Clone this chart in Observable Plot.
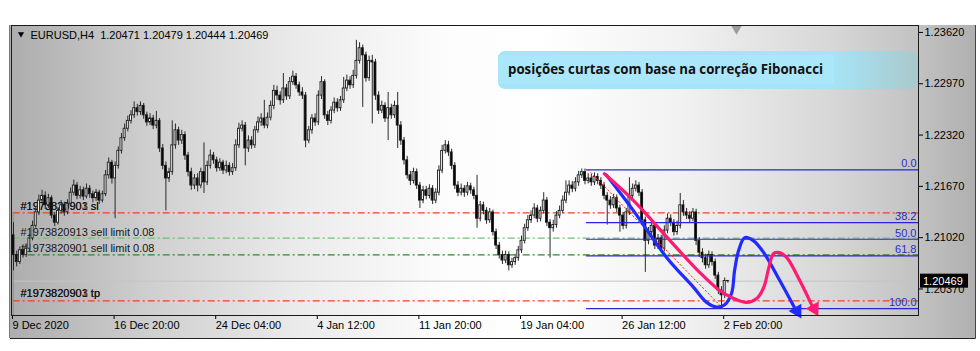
<!DOCTYPE html>
<html>
<head>
<meta charset="utf-8">
<script src="https://cdn.jsdelivr.net/npm/d3@7"></script>
<script src="https://cdn.jsdelivr.net/npm/@observablehq/plot@0.6"></script>
<style>
  html, body { margin: 0; padding: 0; background: #ffffff; }
  #chart { width: 980px; height: 351px; overflow: hidden; }
  #chart svg { display: block; }
</style>
</head>
<body>
<div id="chart"></div>
<script>
// ---------------- data ----------------
const symbol = "EURUSD,H4";
const tickBars = [0, 32, 64, 96, 128, 160, 192, 224];
const tickLabels = ["9 Dec 2020", "16 Dec 20:00", "24 Dec 04:00", "4 Jan 12:00", "11 Jan 20:00", "19 Jan 04:00", "26 Jan 12:00", "2 Feb 20:00"];
const priceTicks = [1.23620, 1.22970, 1.22320, 1.21670, 1.21020, 1.20370];

const firstOpen = 1.2105;
const closes = [
1.2080,1.2071,1.2086,1.2080,1.2088,1.2101,1.2117,1.2134,1.2149,1.2155,
1.2143,1.2152,1.2130,1.2121,1.2136,1.2143,1.2134,1.2145,1.2159,1.2168,
1.2155,1.2162,1.2154,1.2164,1.2157,1.2152,1.2159,1.2149,1.2157,1.2181,
1.2197,1.2177,1.2193,1.2212,1.2228,1.2240,1.2250,1.2257,1.2266,1.2261,
1.2269,1.2257,1.2248,1.2253,1.2244,1.2250,1.2215,1.2193,1.2177,1.2185,
1.2219,1.2238,1.2225,1.2232,1.2206,1.2185,1.2168,1.2177,1.2168,1.2185,
1.2172,1.2193,1.2206,1.2200,1.2190,1.2197,1.2187,1.2193,1.2185,1.2190,
1.2219,1.2240,1.2244,1.2215,1.2225,1.2219,1.2238,1.2248,1.2253,1.2244,
1.2254,1.2269,1.2288,1.2282,1.2276,1.2291,1.2281,1.2299,1.2306,1.2295,
1.2286,1.2282,1.2225,1.2238,1.2253,1.2248,1.2282,1.2299,1.2257,1.2250,
1.2263,1.2273,1.2266,1.2276,1.2291,1.2301,1.2295,1.2307,1.2326,1.2342,
1.2333,1.2304,1.2326,1.2324,1.2282,1.2263,1.2269,1.2253,1.2266,1.2257,
1.2269,1.2244,1.2225,1.2200,1.2181,1.2174,1.2185,1.2168,1.2149,1.2162,
1.2155,1.2164,1.2149,1.2159,1.2187,1.2212,1.2219,1.2210,1.2193,1.2168,
1.2159,1.2164,1.2159,1.2167,1.2162,1.2155,1.2126,1.2143,1.2136,1.2124,
1.2134,1.2109,1.2092,1.2080,1.2073,1.2080,1.2067,1.2071,1.2076,1.2086,
1.2098,1.2114,1.2124,1.2130,1.2139,1.2126,1.2136,1.2149,1.2121,1.2114,
1.2118,1.2130,1.2136,1.2149,1.2159,1.2168,1.2164,1.2172,1.2181,1.2185,
1.2174,1.2177,1.2172,1.2179,1.2174,1.2168,1.2155,1.2149,1.2143,1.2152,
1.2139,1.2130,1.2117,1.2134,1.2155,1.2164,1.2168,1.2159,1.2124,1.2098,
1.2109,1.2117,1.2092,1.2101,1.2088,1.2111,1.2126,1.2121,1.2109,1.2117,
1.2143,1.2134,1.2130,1.2126,1.2134,1.2098,1.2083,1.2076,1.2067,1.2080,
1.2071,1.2054,1.2035,1.2029,1.20471,1.20469
];
const highs = [
1.2121,1.2085,1.2090,1.2092,1.2094,1.2106,1.2123,1.2140,1.2156,1.2162,
1.2160,1.2157,1.2155,1.2134,1.2140,1.2149,1.2147,1.2150,1.2165,1.2175,
1.2172,1.2167,1.2166,1.2170,1.2168,1.2161,1.2163,1.2162,1.2161,1.2187,
1.2203,1.2200,1.2198,1.2217,1.2234,1.2246,1.2256,1.2263,1.2274,1.2271,
1.2274,1.2272,1.2261,1.2259,1.2257,1.2262,1.2253,1.2220,1.2198,1.2190,
1.2250,1.2246,1.2242,1.2238,1.2236,1.2210,1.2190,1.2182,1.2183,1.2190,
1.2222,1.2199,1.2213,1.2210,1.2204,1.2202,1.2200,1.2199,1.2197,1.2196,
1.2226,1.2247,1.2250,1.2248,1.2231,1.2230,1.2243,1.2255,1.2259,1.2276,
1.2260,1.2275,1.2295,1.2294,1.2287,1.2310,1.2296,1.2305,1.2313,1.2310,
1.2299,1.2292,1.2286,1.2243,1.2258,1.2259,1.2288,1.2306,1.2302,1.2262,
1.2268,1.2279,1.2278,1.2281,1.2305,1.2308,1.2306,1.2314,1.2352,1.2349,
1.2346,1.2337,1.2332,1.2333,1.2328,1.2287,1.2275,1.2273,1.2286,1.2271,
1.2275,1.2286,1.2249,1.2229,1.2205,1.2186,1.2190,1.2189,1.2172,1.2167,
1.2167,1.2169,1.2168,1.2164,1.2193,1.2219,1.2225,1.2224,1.2214,1.2197,
1.2173,1.2170,1.2168,1.2172,1.2171,1.2166,1.2181,1.2148,1.2147,1.2140,
1.2139,1.2137,1.2113,1.2096,1.2085,1.2085,1.2084,1.2076,1.2081,1.2091,
1.2104,1.2119,1.2130,1.2136,1.2145,1.2143,1.2141,1.2159,1.2153,1.2125,
1.2124,1.2135,1.2142,1.2155,1.2174,1.2174,1.2173,1.2178,1.2186,1.2189,
1.2189,1.2183,1.2182,1.2184,1.2183,1.2178,1.2172,1.2159,1.2154,1.2157,
1.2156,1.2143,1.2134,1.2139,1.2178,1.2170,1.2174,1.2172,1.2163,1.2128,
1.2115,1.2123,1.2121,1.2106,1.2105,1.2117,1.2132,1.2131,1.2125,1.2123,
1.2158,1.2149,1.2139,1.2135,1.2139,1.2138,1.2102,1.2088,1.2081,1.2085,
1.2084,1.2075,1.2058,1.2040,1.2051,1.20479
];
const lows = [
1.2060,1.2065,1.2068,1.2076,1.2077,1.2085,1.2098,1.2114,1.2130,1.2144,
1.2138,1.2139,1.2126,1.2116,1.2118,1.2132,1.2129,1.2131,1.2141,1.2155,
1.2150,1.2151,1.2149,1.2151,1.2152,1.2146,1.2148,1.2144,1.2146,1.2154,
1.2176,1.2170,1.2126,1.2189,1.2208,1.2224,1.2236,1.2246,1.2253,1.2256,
1.2257,1.2252,1.2243,1.2244,1.2239,1.2240,1.2210,1.2188,1.2136,1.2172,
1.2181,1.2214,1.2219,1.2220,1.2200,1.2179,1.2162,1.2163,1.2160,1.2164,
1.2158,1.2168,1.2189,1.2195,1.2185,1.2186,1.2182,1.2183,1.2180,1.2181,
1.2186,1.2215,1.2236,1.2193,1.2210,1.2214,1.2215,1.2234,1.2243,1.2240,
1.2240,1.2250,1.2264,1.2276,1.2270,1.2272,1.2276,1.2277,1.2295,1.2290,
1.2281,1.2277,1.2216,1.2221,1.2233,1.2243,1.2244,1.2277,1.2252,1.2244,
1.2246,1.2259,1.2261,1.2262,1.2272,1.2287,1.2290,1.2291,1.2303,1.2322,
1.2267,1.2299,1.2300,1.2246,1.2276,1.2258,1.2259,1.2248,1.2225,1.2252,
1.2253,1.2215,1.2219,1.2194,1.2176,1.2168,1.2170,1.2163,1.2139,1.2145,
1.2150,1.2151,1.2144,1.2145,1.2155,1.2183,1.2208,1.2205,1.2188,1.2163,
1.2154,1.2155,1.2153,1.2155,1.2157,1.2150,1.2114,1.2122,1.2131,1.2119,
1.2120,1.2104,1.2087,1.2075,1.2068,1.2069,1.2060,1.2063,1.2067,1.2072,
1.2082,1.2094,1.2110,1.2120,1.2126,1.2121,1.2122,1.2132,1.2116,1.2076,
1.2109,1.2114,1.2126,1.2132,1.2145,1.2155,1.2159,1.2160,1.2167,1.2177,
1.2169,1.2170,1.2167,1.2168,1.2169,1.2163,1.2150,1.2118,1.2138,1.2139,
1.2134,1.2109,1.2112,1.2113,1.2130,1.2150,1.2160,1.2154,1.2119,1.2058,
1.2093,1.2104,1.2087,1.2087,1.2083,1.2084,1.2107,1.2116,1.2104,1.2105,
1.2113,1.2129,1.2125,1.2121,1.2122,1.2092,1.2077,1.2070,1.2062,1.2063,
1.2066,1.2049,1.2030,1.2012,1.2025,1.20444
];
const bid = 1.20469;

const slNames = ["#1973820901 sl", "#1973820903 sl"];
const slPrice = 1.21335;
const limitNames = ["#1973820913 sell limit 0.08", "#1973820901 sell limit 0.08"];
const limitPrices = [1.21013, 1.20803];
const tpNames = ["#1973820901 tp", "#1973820903 tp"];
const tpPrice = 1.20220;

const fibLabels = ["0.0", "38.2", "50.0", "61.8", "100.0"];
const fibPrices = [1.2188, 1.2121, 1.2100, 1.2079, 1.2012];
const fibStartBar = 180.5;
const trendBars = [181, 223.5];
const trendPrices = [1.2188, 1.2012];

const blueBars   = [186.8, 195.3, 205.7, 214.2, 218.3, 221.5, 224.0, 226.2, 227.1, 228.4, 230.3, 233.1, 236.3, 241.3, 246.3];
const bluePrices = [1.2181, 1.2136, 1.2077, 1.2039, 1.2020, 1.2014, 1.2017, 1.2032, 1.2060, 1.2086, 1.2102, 1.2098, 1.2083, 1.2048, 1.2011];
const pinkBars   = [186.1, 195.3, 205.7, 216.1, 222.4, 226.8, 230.9, 234.1, 236.3, 237.9, 239.4, 241.3, 243.5, 247.6, 251.6];
const pinkPrices = [1.2183, 1.2149, 1.2103, 1.2058, 1.2035, 1.2025, 1.2020, 1.2025, 1.2039, 1.2064, 1.2082, 1.2083, 1.2077, 1.2048, 1.2015];
const arrowBars = [246.8, 252.2];
const arrowPrices = [1.2009, 1.2012];

const note = "posições curtas com base na correção Fibonacci";

// ---------------- build ----------------
const bars = closes.map((c, i) => ({
  i, o: i === 0 ? firstOpen : closes[i - 1], h: highs[i], l: lows[i], c
}));
const last = bars[bars.length - 1];
const header = symbol + "\u00a0\u00a0" + [last.o, last.h, last.l, last.c].map(v => v.toFixed(5)).join(" ");
const zip = (xs, ys) => xs.map((x, k) => ({x, y: ys[k]}));

const xDomain = [-0.63, 285.04];
const yDomain = [1.20034, 1.23708];
const red = "#f2421a";

const plot = Plot.plot({
  width: 980, height: 351,
  marginTop: 25, marginRight: 62, marginBottom: 36, marginLeft: 11,
  x: {type: "linear", domain: xDomain, axis: null, label: null},
  y: {type: "linear", domain: yDomain, axis: null, label: null},
  style: {background: "transparent", fontFamily: "'Liberation Sans', Arial, sans-serif", fontSize: "11px", color: "#000", overflow: "visible"},
  marks: [
    // order lines
    Plot.ruleY([slPrice], {x1: -0.1, x2: xDomain[1], stroke: red, strokeWidth: 1.2, strokeDasharray: "7,3,2,3"}),
    Plot.ruleY([tpPrice], {x1: -0.1, x2: xDomain[1], stroke: red, strokeWidth: 1.2, strokeDasharray: "7,3,2,3"}),
    Plot.ruleY([limitPrices[0]], {x1: -0.1, x2: xDomain[1], stroke: "#72c072", strokeWidth: 1.2, strokeDasharray: "7,3,2,3"}),
    Plot.ruleY([limitPrices[1]], {x1: -0.1, x2: xDomain[1], stroke: "#2a8a2a", strokeWidth: 1.2, strokeDasharray: "7,3,2,3"}),
    Plot.ruleY([bid], {x1: -0.1, x2: xDomain[1], stroke: "#c4c4c4", strokeWidth: 1}),
    Plot.ruleX([-0.1], {y1: slPrice, y2: yDomain[0], stroke: "#8a8a8a", strokeWidth: 1}),
    // order labels
    Plot.text(slNames, {y: () => slPrice, text: d => d, frameAnchor: "left", dx: 9, dy: -6.5, textAnchor: "start", fill: "#161616"}),
    Plot.text(limitNames, {y: (d, k) => limitPrices[k], text: d => d, frameAnchor: "left", dx: 9, dy: -6, textAnchor: "start", fill: "#161616"}),
    Plot.text(tpNames, {y: () => tpPrice, text: d => d, frameAnchor: "left", dx: 9, dy: -7, textAnchor: "start", fill: "#161616"}),
    // candles
    Plot.ruleX(bars, {x: "i", y1: "l", y2: "h", stroke: "#2a2a2a", strokeWidth: 1}),
    Plot.rect(bars, {x1: d => d.i - 0.3, x2: d => d.i + 0.3, y1: "o", y2: "c",
      fill: d => d.c >= d.o ? "#ffffff" : "#000000", stroke: "#1a1a1a", strokeWidth: 0.9}),
    // fibonacci
    Plot.ruleY(fibPrices, {y: d => d, x1: fibStartBar, x2: xDomain[1], stroke: "#2626d6", strokeWidth: 1.2}),
    Plot.text(fibLabels, {y: (d, k) => fibPrices[k], text: d => d, frameAnchor: "right", textAnchor: "end", dx: -2, dy: -6, fill: "#2c2cc8"}),
    Plot.line(zip(trendBars, trendPrices), {x: "x", y: "y", stroke: "#ff2020", strokeWidth: 1, strokeDasharray: "1.5,2.5"}),
    // projected paths
    Plot.line(zip(blueBars, bluePrices), {x: "x", y: "y", curve: "catmull-rom", stroke: "#1f2bff", strokeWidth: 3.2, strokeLinecap: "round"}),
    Plot.line(zip(pinkBars, pinkPrices), {x: "x", y: "y", curve: "catmull-rom", stroke: "#ff1a72", strokeWidth: 3.2, strokeLinecap: "round"}),
    Plot.dot([0], {x: () => arrowBars[0], y: () => arrowPrices[0], symbol: "triangle", r: 5.5, rotate: 150, fill: "#1f2bff", stroke: "none"}),
    Plot.dot([0], {x: () => arrowBars[1], y: () => arrowPrices[1], symbol: "triangle", r: 5.5, rotate: 152, fill: "#ff1a72", stroke: "none"}),
    // header
    Plot.dot([0], {frameAnchor: "top-left", dx: 9.5, dy: 8.5, symbol: "triangle", rotate: 180, r: 2.3, fill: "#000", stroke: "none"}),
    Plot.text([header], {frameAnchor: "top-left", dx: 19, dy: 6, lineAnchor: "top", textAnchor: "start", text: d => d, fill: "#000"}),
    Plot.dot([0], {frameAnchor: "top-right", dx: -182, dy: 3, symbol: "triangle", rotate: 180, r: 4, fill: "#9c9c9c", stroke: "none"}),
    // axes
    Plot.axisY(priceTicks, {anchor: "right", tickSize: 4, tickPadding: 2, tickFormat: d => d.toFixed(5), stroke: "#000", fill: "#000"}),
    Plot.axisX(tickBars, {anchor: "bottom", tickSize: 4, tickPadding: 2, textAnchor: "start", dx: -1,
      tickFormat: d => tickLabels[tickBars.indexOf(d)], stroke: "#000", fill: "#000"}),
    Plot.frame({stroke: "#1a1a1a", strokeWidth: 1})
  ]
});

document.getElementById("chart").appendChild(plot);

// ---------------- decorations ----------------
const svg = d3.select(plot);
const ys = plot.scale("y");
svg.insert("rect", ":first-child")
  .attr("x", 10).attr("y", 25).attr("width", 965).attr("height", 313)
  .attr("fill", "url(#mtbg)");
const defs = svg.insert("defs", ":first-child");
const lg = defs.append("linearGradient").attr("id", "mtbg")
  .attr("gradientUnits", "userSpaceOnUse").attr("x1", 10).attr("x2", 975).attr("y1", 0).attr("y2", 0);
[[0, "#adadad"], [0.15, "#d0d0d0"], [0.3, "#ebebeb"], [0.45, "#fcfcfc"], [0.55, "#ffffff"],
 [0.7, "#f1f1f1"], [0.85, "#d7d7d7"], [0.94, "#c2c2c2"], [1, "#b0b0b0"]]
  .forEach(([o, c]) => lg.append("stop").attr("offset", o).attr("stop-color", c));
const ng = defs.append("linearGradient").attr("id", "notebg")
  .attr("gradientUnits", "userSpaceOnUse").attr("x1", 498).attr("x2", 918).attr("y1", 0).attr("y2", 0);
[[0, "#a7e3f7"], [0.8, "#a7e3f6"], [1, "#a9c9cb"]]
  .forEach(([o, c]) => ng.append("stop").attr("offset", o).attr("stop-color", c));

// outer window border
const deco = svg.append("g").attr("text-anchor", "start");
deco.append("line").attr("x1", 9.5).attr("x2", 9.5).attr("y1", 25).attr("y2", 338).attr("stroke", "#7a7a7a");
deco.append("line").attr("x1", 10).attr("x2", 975.5).attr("y1", 338.5).attr("y2", 338.5).attr("stroke", "#222");
deco.append("line").attr("x1", 975.5).attr("x2", 975.5).attr("y1", 25).attr("y2", 338.5).attr("stroke", "#444");

// note box
deco.append("rect").attr("x", 498).attr("y", 51).attr("width", 420).attr("height", 38).attr("rx", 7)
  .attr("fill", "url(#notebg)");
deco.append("rect").attr("x", 498).attr("y", 55).attr("width", 336).attr("height", 29).attr("fill", "#abe7fb");
deco.append("text").attr("x", 508).attr("y", 73.5).attr("text-anchor", "start")
  .attr("font-family", "'Open Sans', 'Noto Sans', sans-serif").attr("font-weight", 700).attr("font-size", 13.5)
  .attr("textLength", 315).attr("lengthAdjust", "spacingAndGlyphs")
  .attr("fill", "#111").text(note);

// current price tag
const by = ys.apply(bid);
deco.append("rect").attr("x", 920).attr("y", by - 7).attr("width", 48).attr("height", 14).attr("fill", "#000");
deco.append("text").attr("x", 923).attr("y", by + 4).attr("text-anchor", "start").attr("fill", "#fff")
  .attr("font-family", "'Liberation Sans', Arial, sans-serif").attr("font-size", 11).text(bid.toFixed(5));
</script>
</body>
</html>
